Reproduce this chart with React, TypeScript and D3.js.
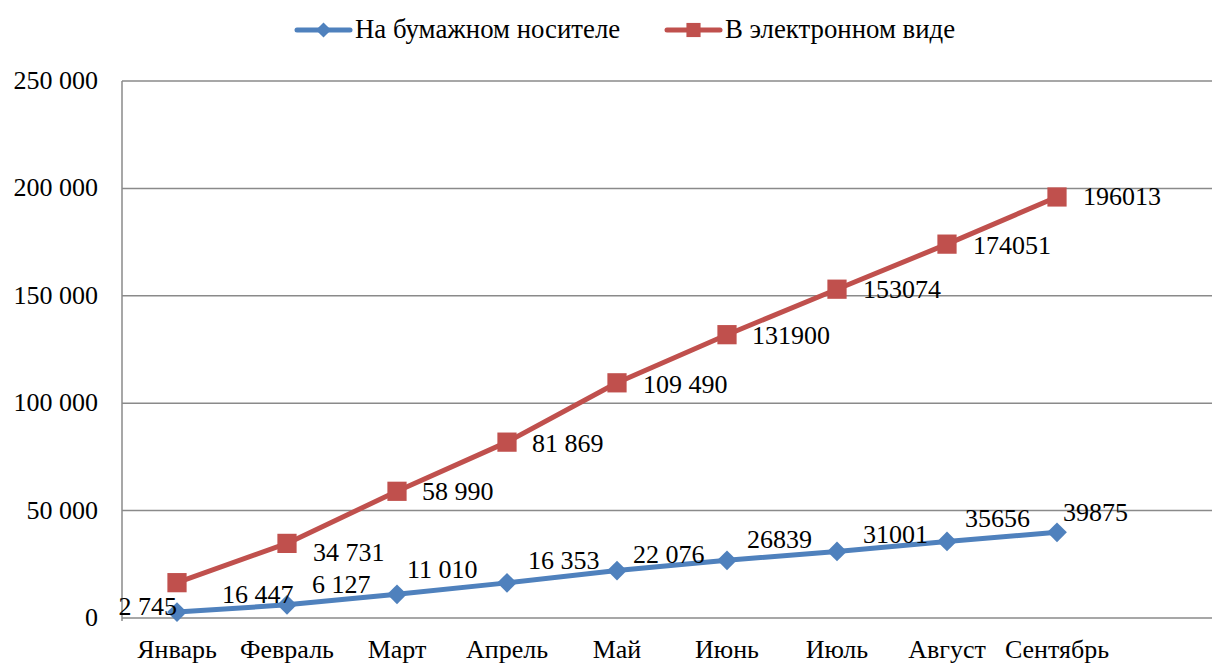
import { useEffect, useRef } from "react";
import * as d3 from "d3";

const months = [
  "Январь",
  "Февраль",
  "Март",
  "Апрель",
  "Май",
  "Июнь",
  "Июль",
  "Август",
  "Сентябрь",
];
const paper = [2745, 6127, 11010, 16353, 22076, 26839, 31001, 35656, 39875];
const electronic = [
  16447, 34731, 58990, 81869, 109490, 131900, 153074, 174051, 196013,
];
const paperLabels = [
  "2 745", "6 127", "11 010", "16 353", "22 076", "26839", "31001", "35656", "39875",
];
const electronicLabels = [
  "16 447", "34 731", "58 990", "81 869", "109 490", "131900", "153074", "174051", "196013",
];
const yTicks = [0, 50000, 100000, 150000, 200000, 250000];
const seriesNames = ["На бумажном носителе", "В электронном виде"];

// label offsets relative to the point (manually placed in the original)
const paperOffsets: [number, number][] = [
  [0, 3], [25, -12], [10, -16], [21, -14], [16, -8], [20, -12], [26, -8], [18, -14], [6, -11],
];
const electronicOffsets: [number, number][] = [
  [45, 20], [26, 18], [25, 9], [25, 10], [26, 10], [25, 9], [26, 9], [26, 10], [26, 8],
];

export default function App() {
  const svgRef = useRef<SVGSVGElement>(null);

  useEffect(() => {
    if (!svgRef.current) return;
    const svg = d3.select(svgRef.current);
    svg.selectAll("*").remove();

    const width = 1212;
    const left = 122;
    const top = 81;
    const bottom = 618;
    const blue = "#4F81BD";
    const red = "#C0504D";
    const grid = "#8a8a8a";

    const x = d3
      .scaleBand()
      .domain(months)
      .range([left, left + 110 * months.length]);
    const cx = (m: string) => x(m)! + x.bandwidth() / 2;
    const y = d3.scaleLinear().domain([0, 250000]).range([bottom, top]);

    // gridlines
    svg
      .append("g")
      .selectAll("line")
      .data(yTicks)
      .join("line")
      .attr("x1", left)
      .attr("x2", width)
      .attr("y1", (d) => y(d))
      .attr("y2", (d) => y(d))
      .attr("stroke", grid)
      .attr("stroke-width", 1.5);

    svg
      .append("line")
      .attr("x1", left)
      .attr("x2", left)
      .attr("y1", top)
      .attr("y2", bottom + 3)
      .attr("stroke", grid)
      .attr("stroke-width", 1.5);

    // y tick labels
    svg
      .append("g")
      .selectAll("text")
      .data(yTicks)
      .join("text")
      .attr("x", 98)
      .attr("y", (d) => y(d) + 8)
      .attr("text-anchor", "end")
      .attr("font-size", 26)
      .attr("fill", "#000")
      .text((d) => d3.format(",")(d).replace(/,/g, " "));

    // x labels
    svg
      .append("g")
      .selectAll("text")
      .data(months)
      .join("text")
      .attr("x", (d) => cx(d))
      .attr("y", 658)
      .attr("text-anchor", "middle")
      .attr("font-size", 26)
      .attr("fill", "#000")
      .text((d) => d);

    const series = [
      { values: paper, color: blue, rot: 45, size: 195, legendSize: 115, labels: paperLabels, offsets: paperOffsets },
      { values: electronic, color: red, rot: 0, size: 370, legendSize: 200, labels: electronicLabels, offsets: electronicOffsets },
    ];

    series.forEach((s, si) => {
      const line = d3
        .line<number>()
        .x((_, i) => cx(months[i]))
        .y((d) => y(d));
      svg
        .append("path")
        .datum(s.values)
        .attr("fill", "none")
        .attr("stroke", s.color)
        .attr("stroke-width", 5)
        .attr("stroke-linejoin", "round")
        .attr("d", line);

      svg
        .append("g")
        .selectAll("path")
        .data(s.values)
        .join("path")
        .attr(
          "transform",
          (d, i) => `translate(${cx(months[i])},${y(d)}) rotate(${s.rot})`
        )
        .attr("d", d3.symbol(d3.symbolSquare, s.size)())
        .attr("fill", s.color);

      svg
        .append("g")
        .selectAll("text")
        .data(s.values)
        .join("text")
        .attr("x", (_, i) => cx(months[i]) + s.offsets[i][0])
        .attr("y", (d, i) => y(d) + s.offsets[i][1])
        .attr("text-anchor", (_, i) => (si === 0 && i === 0 ? "end" : "start"))
        .attr("font-size", 26)
        .attr("fill", "#000")
        .text((_, i) => s.labels[i]);

      // legend
      const lx = si === 0 ? 297 : 667;
      const lg = svg.append("g");
      lg.append("line")
        .attr("x1", lx)
        .attr("x2", lx + 53)
        .attr("y1", 30)
        .attr("y2", 30)
        .attr("stroke", s.color)
        .attr("stroke-width", 5)
        .attr("stroke-linecap", "round");
      lg.append("path")
        .attr("transform", `translate(${lx + 26.5},30) rotate(${s.rot})`)
        .attr("d", d3.symbol(d3.symbolSquare, s.legendSize)())
        .attr("fill", s.color);
      lg.append("text")
        .attr("x", lx + 58)
        .attr("y", 38)
        .attr("font-size", 26.8)
        .attr("fill", "#000")
        .text(seriesNames[si]);
    });
  }, []);

  return (
    <div style={{ position: "absolute", left: 0, top: 0, background: "#fff" }}>
      <svg
        ref={svgRef}
        width={1212}
        height={664}
        fontFamily="Liberation Serif, serif"
        style={{ display: "block" }}
      />
    </div>
  );
}
